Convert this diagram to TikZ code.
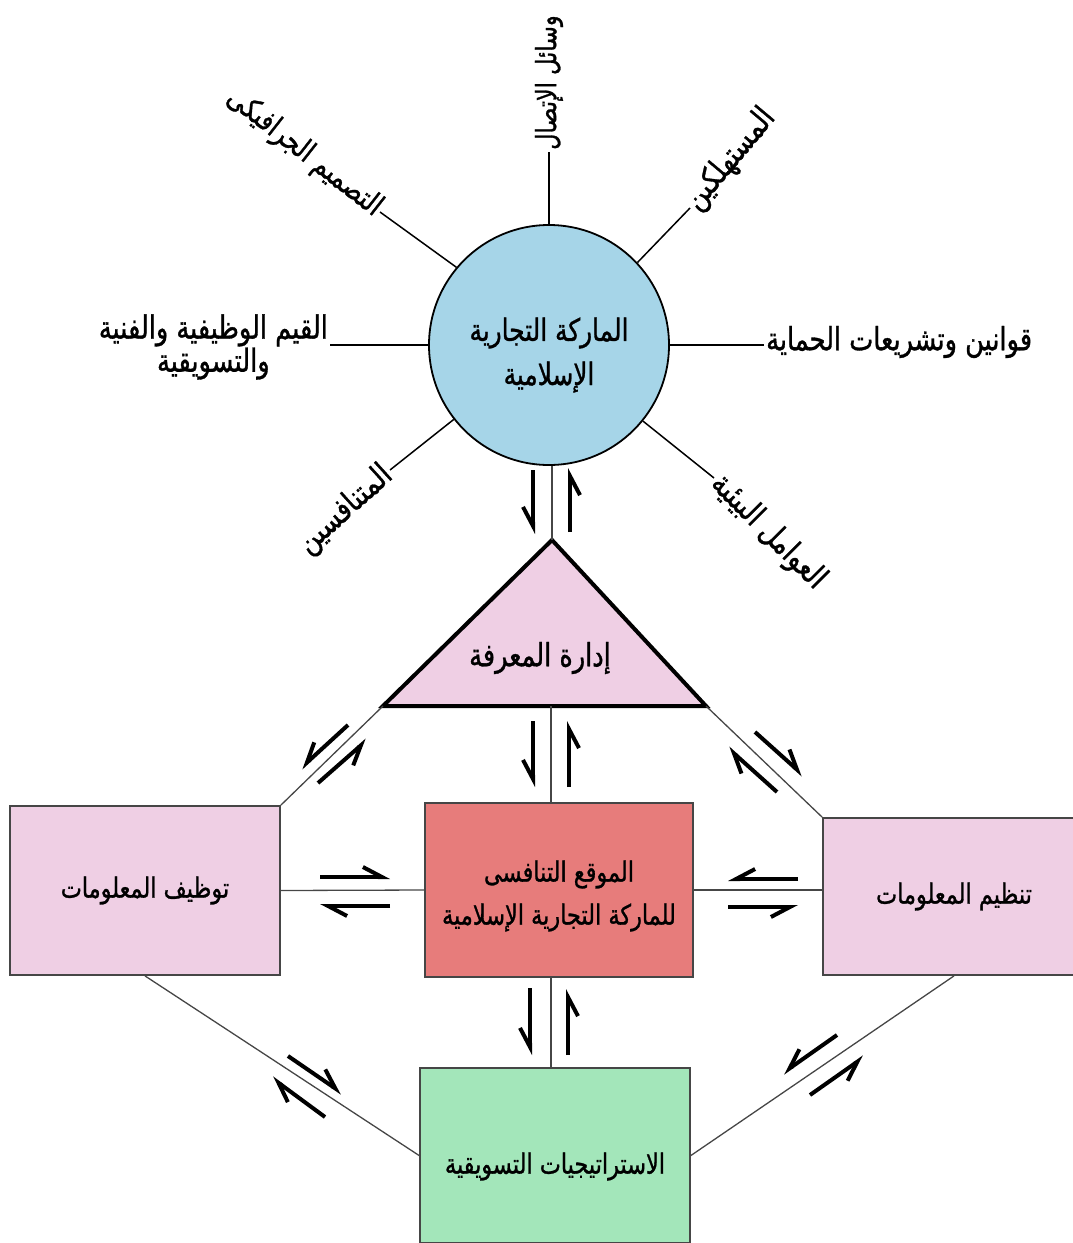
\documentclass[tikz,border=0pt]{standalone}
\usepackage{fontspec}
\usetikzlibrary{arrows.meta}
\newfontfamily\arabicfont[Script=Arabic,FakeStretch=0.8,FakeBold=1]{DejaVu Sans}
\TeXXeTstate=1

\definecolor{brandblue}{RGB}{166,213,232}
\definecolor{softpink}{RGB}{239,207,228}
\definecolor{posred}{RGB}{231,124,123}
\definecolor{stratgreen}{RGB}{163,230,186}
\definecolor{edgegray}{RGB}{70,70,70}

\tikzset{
  spoke/.style={line width=1.5pt},
  link/.style={draw=edgegray, line width=1.3pt},
  box/.style={draw=edgegray, line width=1.8pt, inner sep=0pt},
  word/.style={font=\arabicfont\fontsize{32}{30}\selectfont, inner sep=2pt},
  boxword/.style={font=\arabicfont\fontsize{28}{43}\selectfont, align=center},
  harpL/.style={line width=4pt, -{Straight Barb[harpoon, length=19pt, width=20pt]}},
  harpR/.style={line width=4pt, -{Straight Barb[harpoon, swap, length=19pt, width=20pt]}},
}

\begin{document}
\begin{tikzpicture}[x=1pt, y=-1pt]
    \useasboundingbox (0,0) rectangle (1073,1243);
    % the brand and what acts on it
    \node[circle, draw, line width=1.8pt, fill=brandblue, minimum size=240pt,
      label={[boxword, font=\arabicfont\fontsize{31}{44}\selectfont, yshift=-10pt]center:{\beginR الماركة التجارية\endR\\\beginR الإسلامية\endR}}] (brand) at (549,345) {};
    \node[word, rotate=90, anchor=west, font=\arabicfont\fontsize{28}{30}\selectfont] (media) at (549,152) {\beginR وسائل الإتصال\endR};
    \node[word, rotate=50, anchor=west] (buyers) at (690,208) {\beginR المستهلكين\endR};
    \node[word, anchor=west] (laws) at (764,342) {\beginR قوانين وتشريعات الحماية\endR};
    \node[word, rotate=-45, anchor=west] (envir) at (714,478) {\beginR العوامل البيئية\endR};
    \node[word, rotate=42, anchor=east] (rivals) at (390,470) {\beginR المتنافسين\endR};
    \node[word, anchor=east, align=center] (values) at (330,347) {\beginR القيم الوظيفية والفنية\endR\\\beginR والتسويقية\endR};
    \node[word, rotate=-38, anchor=east, font=\arabicfont\fontsize{30}{30}\selectfont] (design) at (380,212) {\beginR التصميم الجرافيكى\endR};
    \draw[spoke] (brand.north) -- (media.west);
    \draw[spoke] (brand.43) -- (buyers.west);
    \draw[spoke] (brand.east) -- (brand.east -| laws.west);
    \draw[spoke] (brand.-39) -- (envir.west);
    \draw[spoke] (brand.218) -- (rivals.east);
    \draw[spoke] (brand.west) -- (brand.west -| values.east);
    \draw[spoke] (brand.140) -- (design.east);

    % knowledge management triangle
    \coordinate (kmtop) at (552,540);
    \coordinate (kmleft) at (383,706);
    \coordinate (kmright) at (706,706);
    \coordinate (kmbase) at (551,706);
    \draw[line width=4pt, fill=softpink] (kmtop) -- (kmright) -- (kmleft) -- cycle;
    \node[boxword, font=\arabicfont\fontsize{32}{40}\selectfont] (km) at (540,658) {\beginR إدارة المعرفة\endR};

    % boxes
    \node[box, fill=softpink, minimum width=270pt, minimum height=169pt, boxword] (use) at (145,890.5) {\beginR توظيف المعلومات\endR};
    \node[box, fill=posred, minimum width=268pt, minimum height=174pt,
      label={[boxword, yshift=-6pt]center:{\beginR الموقع التنافسى\endR\\\beginR للماركة التجارية الإسلامية\endR}}] (pos) at (559,890) {};
    \node[box, fill=softpink, minimum width=262pt, minimum height=157pt, boxword] (org) at (954,896.5) {\beginR تنظيم المعلومات\endR};
    \node[box, fill=stratgreen, minimum width=270pt, minimum height=175pt,
      label={[boxword, yshift=-11pt]center:{\beginR الاستراتيجيات التسويقية\endR}}] (strat) at (555,1155.5) {};

    % links
    \draw[link] (kmtop |- brand.south) -- (kmtop);
    \draw[link] (kmbase) -- (kmbase |- pos.north);
    \draw[link] (kmbase |- pos.south) -- (kmbase |- strat.north);
    \draw[link] (use.east) -- (pos.west);
    \draw[link] (pos.east) -- (pos.east -| org.west);
    \draw[link] (kmleft) -- (use.north east);
    \draw[link] (kmright) -- (org.north west);
    \draw[link] (use.south) -- (strat.west);
    \draw[link] (org.south) -- (strat.east);

    % harpoons
    \draw[harpR] (533,470) -- (533,534);
    \draw[harpR] (570,532) -- (570,468);
    \draw[harpR] (533,721) -- (533,787);
    \draw[harpR] (569,787) -- (569,721);
    \draw[harpR] (530,988) -- (530,1055);
    \draw[harpR] (568,1055) -- (568,989);
    \draw[harpL] (320,877) -- (390,877);
    \draw[harpL] (390,906) -- (320,906);
    \draw[harpR] (798,879) -- (728,879);
    \draw[harpR] (728,907) -- (798,907);
    \draw[harpR] (348,725) -- (301,768);
    \draw[harpR] (318,783) -- (367,740);
    \draw[harpL] (755,732) -- (803,775);
    \draw[harpL] (777,792) -- (728,748);
    \draw[harpL] (288,1056) -- (342,1093);
    \draw[harpL] (325,1117) -- (272,1078);
    \draw[harpR] (837,1035) -- (783,1073);
    \draw[harpR] (810,1095) -- (864,1057);
\end{tikzpicture}
\end{document}
